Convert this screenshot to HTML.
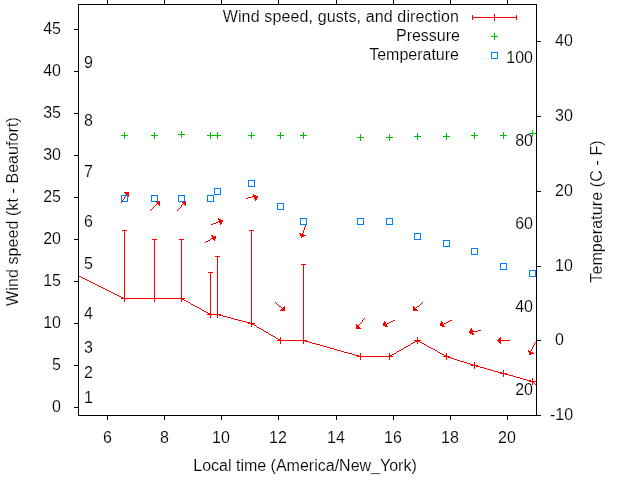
<!DOCTYPE html>
<html><head><meta charset="utf-8"><style>
html,body{margin:0;padding:0;background:#fff;width:640px;height:480px;overflow:hidden}
svg{display:block;will-change:transform}
text{font-family:"Liberation Sans",sans-serif;font-size:16px;fill:#000;stroke:#fff;stroke-width:0.15px}
</style></head><body>
<svg width="640" height="480" viewBox="0 0 640 480">
<rect x="0" y="0" width="640" height="480" fill="#fff"/>
<text x="61" y="412" text-anchor="end">0</text>
<text x="61" y="370" text-anchor="end">5</text>
<text x="61" y="328" text-anchor="end">10</text>
<text x="61" y="286" text-anchor="end">15</text>
<text x="61" y="244" text-anchor="end">20</text>
<text x="61" y="202" text-anchor="end">25</text>
<text x="61" y="160" text-anchor="end">30</text>
<text x="61" y="118" text-anchor="end">35</text>
<text x="61" y="76" text-anchor="end">40</text>
<text x="61" y="34" text-anchor="end">45</text>
<text x="107.5" y="443" text-anchor="middle">6</text>
<text x="164.5" y="443" text-anchor="middle">8</text>
<text x="221" y="443" text-anchor="middle">10</text>
<text x="278" y="443" text-anchor="middle">12</text>
<text x="336" y="443" text-anchor="middle">14</text>
<text x="393" y="443" text-anchor="middle">16</text>
<text x="450" y="443" text-anchor="middle">18</text>
<text x="507" y="443" text-anchor="middle">20</text>
<text x="550" y="420" text-anchor="start">-10</text>
<text x="555" y="345" text-anchor="start">0</text>
<text x="555" y="271" text-anchor="start">10</text>
<text x="555" y="196" text-anchor="start">20</text>
<text x="555" y="121" text-anchor="start">30</text>
<text x="555" y="46" text-anchor="start">40</text>
<text x="84" y="403" text-anchor="start">1</text>
<text x="84" y="378" text-anchor="start">2</text>
<text x="84" y="353" text-anchor="start">3</text>
<text x="84" y="319" text-anchor="start">4</text>
<text x="84" y="269" text-anchor="start">5</text>
<text x="84" y="227" text-anchor="start">6</text>
<text x="84" y="177" text-anchor="start">7</text>
<text x="84" y="126" text-anchor="start">8</text>
<text x="84" y="68" text-anchor="start">9</text>
<text x="533" y="395" text-anchor="end">20</text>
<text x="533" y="312" text-anchor="end">40</text>
<text x="533" y="229" text-anchor="end">60</text>
<text x="533" y="146" text-anchor="end">80</text>
<text x="533" y="63" text-anchor="end">100</text>
<text x="305" y="471" text-anchor="middle">Local time (America/New_York)</text>
<text x="0" y="0" text-anchor="middle" transform="translate(18,211.5) rotate(-90)" letter-spacing="0.08">Wind speed (kt - Beaufort)</text>
<text x="0" y="0" text-anchor="middle" transform="translate(602,211.5) rotate(-90)" letter-spacing="0.1">Temperature (C - F)</text>
<text x="459" y="22" text-anchor="end" letter-spacing="0.13">Wind speed, gusts, and direction</text>
<text x="460" y="41" text-anchor="end">Pressure</text>
<text x="459" y="60" text-anchor="end">Temperature</text>
<g shape-rendering="crispEdges">
<path fill="#ff0000" d="M494 14h1v1h-1zM472 15h1v1h-1zM494 15h1v1h-1zM516 15h1v1h-1zM472 16h1v1h-1zM494 16h1v1h-1zM516 16h1v1h-1zM472 17h45v1h-45zM472 18h1v1h-1zM494 18h1v1h-1zM516 18h1v1h-1zM472 19h1v1h-1zM494 19h1v1h-1zM516 19h1v1h-1zM494 20h1v1h-1zM122 230h5v1h-5zM249 230h5v1h-5zM124 231h1v1h-1zM251 231h1v1h-1zM124 232h1v1h-1zM251 232h1v1h-1zM124 233h1v1h-1zM251 233h1v1h-1zM124 234h1v1h-1zM251 234h1v1h-1zM124 235h1v1h-1zM251 235h1v1h-1zM124 236h1v1h-1zM251 236h1v1h-1zM124 237h1v1h-1zM251 237h1v1h-1zM124 238h1v1h-1zM251 238h1v1h-1zM124 239h1v1h-1zM152 239h5v1h-5zM179 239h5v1h-5zM251 239h1v1h-1zM124 240h1v1h-1zM154 240h1v1h-1zM181 240h1v1h-1zM251 240h1v1h-1zM124 241h1v1h-1zM154 241h1v1h-1zM181 241h1v1h-1zM251 241h1v1h-1zM124 242h1v1h-1zM154 242h1v1h-1zM181 242h1v1h-1zM251 242h1v1h-1zM124 243h1v1h-1zM154 243h1v1h-1zM181 243h1v1h-1zM251 243h1v1h-1zM124 244h1v1h-1zM154 244h1v1h-1zM181 244h1v1h-1zM251 244h1v1h-1zM124 245h1v1h-1zM154 245h1v1h-1zM181 245h1v1h-1zM251 245h1v1h-1zM124 246h1v1h-1zM154 246h1v1h-1zM181 246h1v1h-1zM251 246h1v1h-1zM124 247h1v1h-1zM154 247h1v1h-1zM181 247h1v1h-1zM251 247h1v1h-1zM124 248h1v1h-1zM154 248h1v1h-1zM181 248h1v1h-1zM251 248h1v1h-1zM124 249h1v1h-1zM154 249h1v1h-1zM181 249h1v1h-1zM251 249h1v1h-1zM124 250h1v1h-1zM154 250h1v1h-1zM181 250h1v1h-1zM251 250h1v1h-1zM124 251h1v1h-1zM154 251h1v1h-1zM181 251h1v1h-1zM251 251h1v1h-1zM124 252h1v1h-1zM154 252h1v1h-1zM181 252h1v1h-1zM251 252h1v1h-1zM124 253h1v1h-1zM154 253h1v1h-1zM181 253h1v1h-1zM251 253h1v1h-1zM124 254h1v1h-1zM154 254h1v1h-1zM181 254h1v1h-1zM251 254h1v1h-1zM124 255h1v1h-1zM154 255h1v1h-1zM181 255h1v1h-1zM251 255h1v1h-1zM124 256h1v1h-1zM154 256h1v1h-1zM181 256h1v1h-1zM215 256h5v1h-5zM251 256h1v1h-1zM124 257h1v1h-1zM154 257h1v1h-1zM181 257h1v1h-1zM217 257h1v1h-1zM251 257h1v1h-1zM124 258h1v1h-1zM154 258h1v1h-1zM181 258h1v1h-1zM217 258h1v1h-1zM251 258h1v1h-1zM124 259h1v1h-1zM154 259h1v1h-1zM181 259h1v1h-1zM217 259h1v1h-1zM251 259h1v1h-1zM124 260h1v1h-1zM154 260h1v1h-1zM181 260h1v1h-1zM217 260h1v1h-1zM251 260h1v1h-1zM124 261h1v1h-1zM154 261h1v1h-1zM181 261h1v1h-1zM217 261h1v1h-1zM251 261h1v1h-1zM124 262h1v1h-1zM154 262h1v1h-1zM181 262h1v1h-1zM217 262h1v1h-1zM251 262h1v1h-1zM124 263h1v1h-1zM154 263h1v1h-1zM181 263h1v1h-1zM217 263h1v1h-1zM251 263h1v1h-1zM124 264h1v1h-1zM154 264h1v1h-1zM181 264h1v1h-1zM217 264h1v1h-1zM251 264h1v1h-1zM301 264h5v1h-5zM124 265h1v1h-1zM154 265h1v1h-1zM181 265h1v1h-1zM217 265h1v1h-1zM251 265h1v1h-1zM303 265h1v1h-1zM124 266h1v1h-1zM154 266h1v1h-1zM181 266h1v1h-1zM217 266h1v1h-1zM251 266h1v1h-1zM303 266h1v1h-1zM124 267h1v1h-1zM154 267h1v1h-1zM181 267h1v1h-1zM217 267h1v1h-1zM251 267h1v1h-1zM303 267h1v1h-1zM124 268h1v1h-1zM154 268h1v1h-1zM181 268h1v1h-1zM217 268h1v1h-1zM251 268h1v1h-1zM303 268h1v1h-1zM124 269h1v1h-1zM154 269h1v1h-1zM181 269h1v1h-1zM217 269h1v1h-1zM251 269h1v1h-1zM303 269h1v1h-1zM124 270h1v1h-1zM154 270h1v1h-1zM181 270h1v1h-1zM217 270h1v1h-1zM251 270h1v1h-1zM303 270h1v1h-1zM124 271h1v1h-1zM154 271h1v1h-1zM181 271h1v1h-1zM217 271h1v1h-1zM251 271h1v1h-1zM303 271h1v1h-1zM124 272h1v1h-1zM154 272h1v1h-1zM181 272h1v1h-1zM208 272h5v1h-5zM217 272h1v1h-1zM251 272h1v1h-1zM303 272h1v1h-1zM124 273h1v1h-1zM154 273h1v1h-1zM181 273h1v1h-1zM210 273h1v1h-1zM217 273h1v1h-1zM251 273h1v1h-1zM303 273h1v1h-1zM124 274h1v1h-1zM154 274h1v1h-1zM181 274h1v1h-1zM210 274h1v1h-1zM217 274h1v1h-1zM251 274h1v1h-1zM303 274h1v1h-1zM78 275h1v1h-1zM124 275h1v1h-1zM154 275h1v1h-1zM181 275h1v1h-1zM210 275h1v1h-1zM217 275h1v1h-1zM251 275h1v1h-1zM303 275h1v1h-1zM79 276h2v1h-2zM124 276h1v1h-1zM154 276h1v1h-1zM181 276h1v1h-1zM210 276h1v1h-1zM217 276h1v1h-1zM251 276h1v1h-1zM303 276h1v1h-1zM81 277h2v1h-2zM124 277h1v1h-1zM154 277h1v1h-1zM181 277h1v1h-1zM210 277h1v1h-1zM217 277h1v1h-1zM251 277h1v1h-1zM303 277h1v1h-1zM83 278h2v1h-2zM124 278h1v1h-1zM154 278h1v1h-1zM181 278h1v1h-1zM210 278h1v1h-1zM217 278h1v1h-1zM251 278h1v1h-1zM303 278h1v1h-1zM85 279h2v1h-2zM124 279h1v1h-1zM154 279h1v1h-1zM181 279h1v1h-1zM210 279h1v1h-1zM217 279h1v1h-1zM251 279h1v1h-1zM303 279h1v1h-1zM87 280h2v1h-2zM124 280h1v1h-1zM154 280h1v1h-1zM181 280h1v1h-1zM210 280h1v1h-1zM217 280h1v1h-1zM251 280h1v1h-1zM303 280h1v1h-1zM89 281h2v1h-2zM124 281h1v1h-1zM154 281h1v1h-1zM181 281h1v1h-1zM210 281h1v1h-1zM217 281h1v1h-1zM251 281h1v1h-1zM303 281h1v1h-1zM91 282h2v1h-2zM124 282h1v1h-1zM154 282h1v1h-1zM181 282h1v1h-1zM210 282h1v1h-1zM217 282h1v1h-1zM251 282h1v1h-1zM303 282h1v1h-1zM93 283h2v1h-2zM124 283h1v1h-1zM154 283h1v1h-1zM181 283h1v1h-1zM210 283h1v1h-1zM217 283h1v1h-1zM251 283h1v1h-1zM303 283h1v1h-1zM95 284h2v1h-2zM124 284h1v1h-1zM154 284h1v1h-1zM181 284h1v1h-1zM210 284h1v1h-1zM217 284h1v1h-1zM251 284h1v1h-1zM303 284h1v1h-1zM97 285h2v1h-2zM124 285h1v1h-1zM154 285h1v1h-1zM181 285h1v1h-1zM210 285h1v1h-1zM217 285h1v1h-1zM251 285h1v1h-1zM303 285h1v1h-1zM99 286h2v1h-2zM124 286h1v1h-1zM154 286h1v1h-1zM181 286h1v1h-1zM210 286h1v1h-1zM217 286h1v1h-1zM251 286h1v1h-1zM303 286h1v1h-1zM101 287h2v1h-2zM124 287h1v1h-1zM154 287h1v1h-1zM181 287h1v1h-1zM210 287h1v1h-1zM217 287h1v1h-1zM251 287h1v1h-1zM303 287h1v1h-1zM103 288h2v1h-2zM124 288h1v1h-1zM154 288h1v1h-1zM181 288h1v1h-1zM210 288h1v1h-1zM217 288h1v1h-1zM251 288h1v1h-1zM303 288h1v1h-1zM105 289h2v1h-2zM124 289h1v1h-1zM154 289h1v1h-1zM181 289h1v1h-1zM210 289h1v1h-1zM217 289h1v1h-1zM251 289h1v1h-1zM303 289h1v1h-1zM107 290h2v1h-2zM124 290h1v1h-1zM154 290h1v1h-1zM181 290h1v1h-1zM210 290h1v1h-1zM217 290h1v1h-1zM251 290h1v1h-1zM303 290h1v1h-1zM109 291h2v1h-2zM124 291h1v1h-1zM154 291h1v1h-1zM181 291h1v1h-1zM210 291h1v1h-1zM217 291h1v1h-1zM251 291h1v1h-1zM303 291h1v1h-1zM111 292h2v1h-2zM124 292h1v1h-1zM154 292h1v1h-1zM181 292h1v1h-1zM210 292h1v1h-1zM217 292h1v1h-1zM251 292h1v1h-1zM303 292h1v1h-1zM113 293h2v1h-2zM124 293h1v1h-1zM154 293h1v1h-1zM181 293h1v1h-1zM210 293h1v1h-1zM217 293h1v1h-1zM251 293h1v1h-1zM303 293h1v1h-1zM115 294h2v1h-2zM124 294h1v1h-1zM154 294h1v1h-1zM181 294h1v1h-1zM210 294h1v1h-1zM217 294h1v1h-1zM251 294h1v1h-1zM303 294h1v1h-1zM117 295h2v1h-2zM124 295h1v1h-1zM154 295h1v1h-1zM181 295h1v1h-1zM210 295h1v1h-1zM217 295h1v1h-1zM251 295h1v1h-1zM303 295h1v1h-1zM119 296h2v1h-2zM124 296h1v1h-1zM154 296h1v1h-1zM181 296h1v1h-1zM210 296h1v1h-1zM217 296h1v1h-1zM251 296h1v1h-1zM303 296h1v1h-1zM121 297h2v1h-2zM124 297h1v1h-1zM154 297h1v1h-1zM181 297h1v1h-1zM210 297h1v1h-1zM217 297h1v1h-1zM251 297h1v1h-1zM303 297h1v1h-1zM121 298h64v1h-64zM210 298h1v1h-1zM217 298h1v1h-1zM251 298h1v1h-1zM303 298h1v1h-1zM124 299h1v1h-1zM154 299h1v1h-1zM181 299h3v1h-3zM210 299h1v1h-1zM217 299h1v1h-1zM251 299h1v1h-1zM303 299h1v1h-1zM124 300h1v1h-1zM154 300h1v1h-1zM181 300h1v1h-1zM184 300h2v1h-2zM210 300h1v1h-1zM217 300h1v1h-1zM251 300h1v1h-1zM303 300h1v1h-1zM124 301h1v1h-1zM154 301h1v1h-1zM181 301h1v1h-1zM186 301h2v1h-2zM210 301h1v1h-1zM217 301h1v1h-1zM251 301h1v1h-1zM303 301h1v1h-1zM188 302h2v1h-2zM210 302h1v1h-1zM217 302h1v1h-1zM251 302h1v1h-1zM303 302h1v1h-1zM190 303h1v1h-1zM210 303h1v1h-1zM217 303h1v1h-1zM251 303h1v1h-1zM303 303h1v1h-1zM191 304h2v1h-2zM210 304h1v1h-1zM217 304h1v1h-1zM251 304h1v1h-1zM303 304h1v1h-1zM193 305h2v1h-2zM210 305h1v1h-1zM217 305h1v1h-1zM251 305h1v1h-1zM303 305h1v1h-1zM195 306h2v1h-2zM210 306h1v1h-1zM217 306h1v1h-1zM251 306h1v1h-1zM303 306h1v1h-1zM197 307h2v1h-2zM210 307h1v1h-1zM217 307h1v1h-1zM251 307h1v1h-1zM303 307h1v1h-1zM199 308h2v1h-2zM210 308h1v1h-1zM217 308h1v1h-1zM251 308h1v1h-1zM303 308h1v1h-1zM201 309h1v1h-1zM210 309h1v1h-1zM217 309h1v1h-1zM251 309h1v1h-1zM303 309h1v1h-1zM202 310h2v1h-2zM210 310h1v1h-1zM217 310h1v1h-1zM251 310h1v1h-1zM303 310h1v1h-1zM204 311h2v1h-2zM210 311h1v1h-1zM217 311h1v1h-1zM251 311h1v1h-1zM303 311h1v1h-1zM206 312h2v1h-2zM210 312h1v1h-1zM217 312h1v1h-1zM251 312h1v1h-1zM303 312h1v1h-1zM208 313h3v1h-3zM217 313h1v1h-1zM251 313h1v1h-1zM303 313h1v1h-1zM207 314h14v1h-14zM251 314h1v1h-1zM303 314h1v1h-1zM210 315h1v1h-1zM217 315h1v1h-1zM219 315h4v1h-4zM251 315h1v1h-1zM303 315h1v1h-1zM210 316h1v1h-1zM217 316h1v1h-1zM223 316h4v1h-4zM251 316h1v1h-1zM303 316h1v1h-1zM210 317h1v1h-1zM217 317h1v1h-1zM227 317h4v1h-4zM251 317h1v1h-1zM303 317h1v1h-1zM231 318h3v1h-3zM251 318h1v1h-1zM303 318h1v1h-1zM234 319h4v1h-4zM251 319h1v1h-1zM303 319h1v1h-1zM238 320h4v1h-4zM251 320h1v1h-1zM303 320h1v1h-1zM242 321h4v1h-4zM251 321h1v1h-1zM303 321h1v1h-1zM246 322h4v1h-4zM251 322h1v1h-1zM303 322h1v1h-1zM248 323h7v1h-7zM303 323h1v1h-1zM251 324h3v1h-3zM303 324h1v1h-1zM251 325h1v1h-1zM254 325h2v1h-2zM303 325h1v1h-1zM251 326h1v1h-1zM256 326h1v1h-1zM303 326h1v1h-1zM257 327h2v1h-2zM303 327h1v1h-1zM259 328h2v1h-2zM303 328h1v1h-1zM261 329h2v1h-2zM303 329h1v1h-1zM263 330h1v1h-1zM303 330h1v1h-1zM264 331h2v1h-2zM303 331h1v1h-1zM266 332h2v1h-2zM303 332h1v1h-1zM268 333h1v1h-1zM303 333h1v1h-1zM269 334h2v1h-2zM303 334h1v1h-1zM271 335h2v1h-2zM303 335h1v1h-1zM273 336h2v1h-2zM303 336h1v1h-1zM275 337h1v1h-1zM280 337h1v1h-1zM303 337h1v1h-1zM417 337h1v1h-1zM276 338h2v1h-2zM280 338h1v1h-1zM303 338h1v1h-1zM417 338h1v1h-1zM278 339h3v1h-3zM303 339h1v1h-1zM417 339h1v1h-1zM277 340h30v1h-30zM414 340h7v1h-7zM280 341h1v1h-1zM303 341h1v1h-1zM305 341h4v1h-4zM415 341h5v1h-5zM280 342h1v1h-1zM303 342h1v1h-1zM309 342h3v1h-3zM413 342h2v1h-2zM417 342h1v1h-1zM420 342h2v1h-2zM280 343h1v1h-1zM303 343h1v1h-1zM312 343h4v1h-4zM411 343h2v1h-2zM417 343h1v1h-1zM422 343h2v1h-2zM316 344h4v1h-4zM410 344h1v1h-1zM424 344h2v1h-2zM320 345h3v1h-3zM408 345h2v1h-2zM426 345h1v1h-1zM323 346h4v1h-4zM406 346h2v1h-2zM427 346h2v1h-2zM327 347h3v1h-3zM404 347h2v1h-2zM429 347h2v1h-2zM330 348h4v1h-4zM403 348h1v1h-1zM431 348h2v1h-2zM334 349h3v1h-3zM401 349h2v1h-2zM433 349h2v1h-2zM337 350h4v1h-4zM399 350h2v1h-2zM435 350h2v1h-2zM341 351h3v1h-3zM397 351h2v1h-2zM437 351h1v1h-1zM344 352h4v1h-4zM396 352h1v1h-1zM438 352h2v1h-2zM348 353h4v1h-4zM360 353h1v1h-1zM389 353h1v1h-1zM394 353h2v1h-2zM440 353h2v1h-2zM446 353h1v1h-1zM352 354h3v1h-3zM360 354h1v1h-1zM389 354h1v1h-1zM392 354h2v1h-2zM442 354h2v1h-2zM446 354h1v1h-1zM355 355h4v1h-4zM360 355h1v1h-1zM389 355h3v1h-3zM444 355h3v1h-3zM357 356h36v1h-36zM443 356h7v1h-7zM360 357h1v1h-1zM389 357h1v1h-1zM446 357h1v1h-1zM448 357h3v1h-3zM360 358h1v1h-1zM389 358h1v1h-1zM446 358h1v1h-1zM451 358h3v1h-3zM360 359h1v1h-1zM389 359h1v1h-1zM446 359h1v1h-1zM454 359h3v1h-3zM457 360h3v1h-3zM460 361h4v1h-4zM464 362h3v1h-3zM474 362h1v1h-1zM467 363h3v1h-3zM474 363h1v1h-1zM470 364h3v1h-3zM474 364h1v1h-1zM471 365h7v1h-7zM474 366h1v1h-1zM476 366h4v1h-4zM474 367h1v1h-1zM480 367h4v1h-4zM474 368h1v1h-1zM484 368h3v1h-3zM487 369h4v1h-4zM491 370h3v1h-3zM503 370h1v1h-1zM494 371h4v1h-4zM503 371h1v1h-1zM498 372h4v1h-4zM503 372h1v1h-1zM500 373h7v1h-7zM503 374h1v1h-1zM505 374h4v1h-4zM503 375h1v1h-1zM509 375h4v1h-4zM503 376h1v1h-1zM513 376h3v1h-3zM516 377h4v1h-4zM520 378h3v1h-3zM532 378h1v1h-1zM523 379h4v1h-4zM532 379h1v1h-1zM527 380h4v1h-4zM532 380h1v1h-1zM529 381h7v1h-7zM532 382h2v1h-2zM532 383h1v1h-1zM534 383h1v1h-1zM532 384h1v1h-1zM535 384h1v1h-1z"/>
<path fill="#ff0000" d="M124 192h5v1h-5zM125 193h4v1h-4zM126 194h3v1h-3zM253 194h1v1h-1zM126 195h3v1h-3zM253 195h3v1h-3zM125 196h1v1h-1zM128 196h1v1h-1zM252 196h6v1h-6zM124 197h1v1h-1zM248 197h4v1h-4zM254 197h4v1h-4zM124 198h1v1h-1zM246 198h2v1h-2zM254 198h3v1h-3zM123 199h1v1h-1zM255 199h2v1h-2zM122 200h1v1h-1zM255 200h1v1h-1zM122 201h1v1h-1zM155 201h5v1h-5zM181 201h5v1h-5zM121 202h1v1h-1zM156 202h4v1h-4zM182 202h4v1h-4zM157 203h3v1h-3zM183 203h3v1h-3zM156 204h1v1h-1zM158 204h2v1h-2zM182 204h1v1h-1zM184 204h2v1h-2zM155 205h1v1h-1zM159 205h1v1h-1zM181 205h1v1h-1zM185 205h1v1h-1zM154 206h1v1h-1zM181 206h1v1h-1zM153 207h1v1h-1zM180 207h1v1h-1zM152 208h1v1h-1zM179 208h1v1h-1zM151 209h1v1h-1zM178 209h1v1h-1zM150 210h1v1h-1zM177 210h1v1h-1zM218 218h1v1h-1zM218 219h3v1h-3zM219 220h4v1h-4zM218 221h5v1h-5zM216 222h2v1h-2zM219 222h3v1h-3zM213 223h3v1h-3zM220 223h2v1h-2zM211 224h2v1h-2zM220 224h1v1h-1zM305 225h1v1h-1zM305 226h1v1h-1zM304 227h1v1h-1zM304 228h1v1h-1zM304 229h1v1h-1zM303 230h1v1h-1zM303 231h1v1h-1zM303 232h1v1h-1zM299 233h2v1h-2zM302 233h1v1h-1zM300 234h4v1h-4zM211 235h2v1h-2zM300 235h6v1h-6zM212 236h4v1h-4zM301 236h3v1h-3zM212 237h4v1h-4zM301 237h1v1h-1zM211 238h5v1h-5zM210 239h1v1h-1zM213 239h2v1h-2zM208 240h2v1h-2zM214 240h1v1h-1zM206 241h2v1h-2zM205 242h1v1h-1zM275 302h1v1h-1zM422 302h1v1h-1zM276 303h1v1h-1zM421 303h1v1h-1zM277 304h1v1h-1zM420 304h1v1h-1zM278 305h1v1h-1zM419 305h1v1h-1zM279 306h2v1h-2zM284 306h1v1h-1zM413 306h1v1h-1zM417 306h2v1h-2zM281 307h1v1h-1zM283 307h2v1h-2zM413 307h2v1h-2zM416 307h1v1h-1zM282 308h3v1h-3zM413 308h3v1h-3zM281 309h4v1h-4zM413 309h4v1h-4zM280 310h5v1h-5zM413 310h5v1h-5zM364 318h1v1h-1zM363 319h1v1h-1zM362 320h1v1h-1zM393 320h2v1h-2zM450 320h2v1h-2zM362 321h1v1h-1zM384 321h1v1h-1zM391 321h2v1h-2zM441 321h1v1h-1zM448 321h2v1h-2zM361 322h1v1h-1zM384 322h2v1h-2zM389 322h2v1h-2zM441 322h2v1h-2zM446 322h2v1h-2zM360 323h1v1h-1zM383 323h3v1h-3zM387 323h2v1h-2zM440 323h3v1h-3zM444 323h2v1h-2zM356 324h1v1h-1zM359 324h1v1h-1zM383 324h4v1h-4zM440 324h4v1h-4zM356 325h3v1h-3zM383 325h4v1h-4zM440 325h4v1h-4zM356 326h3v1h-3zM385 326h3v1h-3zM442 326h3v1h-3zM356 327h4v1h-4zM356 328h5v1h-5zM471 328h1v1h-1zM470 329h2v1h-2zM470 330h3v1h-3zM478 330h3v1h-3zM469 331h9v1h-9zM469 332h4v1h-4zM470 333h4v1h-4zM472 334h2v1h-2zM500 337h1v1h-1zM499 338h2v1h-2zM498 339h3v1h-3zM497 340h13v1h-13zM498 341h3v1h-3zM499 342h2v1h-2zM535 342h1v1h-1zM500 343h1v1h-1zM534 343h1v1h-1zM534 344h1v1h-1zM533 345h1v1h-1zM533 346h1v1h-1zM532 347h1v1h-1zM532 348h1v1h-1zM531 349h1v1h-1zM528 350h1v1h-1zM531 350h1v1h-1zM528 351h3v1h-3zM529 352h4v1h-4zM529 353h5v1h-5zM529 354h2v1h-2z"/>
<path fill="#00c000" d="M494 33h1v1h-1zM494 34h1v1h-1zM494 35h1v1h-1zM491 36h7v1h-7zM494 37h1v1h-1zM494 38h1v1h-1zM494 39h1v1h-1zM532 130h1v1h-1zM181 131h1v1h-1zM532 131h1v1h-1zM124 132h1v1h-1zM154 132h1v1h-1zM181 132h1v1h-1zM210 132h1v1h-1zM217 132h1v1h-1zM251 132h1v1h-1zM280 132h1v1h-1zM303 132h1v1h-1zM474 132h1v1h-1zM503 132h1v1h-1zM532 132h1v1h-1zM124 133h1v1h-1zM154 133h1v1h-1zM181 133h1v1h-1zM210 133h1v1h-1zM217 133h1v1h-1zM251 133h1v1h-1zM280 133h1v1h-1zM303 133h1v1h-1zM417 133h1v1h-1zM446 133h1v1h-1zM474 133h1v1h-1zM503 133h1v1h-1zM529 133h7v1h-7zM124 134h1v1h-1zM154 134h1v1h-1zM178 134h7v1h-7zM210 134h1v1h-1zM217 134h1v1h-1zM251 134h1v1h-1zM280 134h1v1h-1zM303 134h1v1h-1zM360 134h1v1h-1zM389 134h1v1h-1zM417 134h1v1h-1zM446 134h1v1h-1zM474 134h1v1h-1zM503 134h1v1h-1zM532 134h1v1h-1zM121 135h7v1h-7zM151 135h7v1h-7zM181 135h1v1h-1zM207 135h14v1h-14zM248 135h7v1h-7zM277 135h7v1h-7zM300 135h7v1h-7zM360 135h1v1h-1zM389 135h1v1h-1zM417 135h1v1h-1zM446 135h1v1h-1zM471 135h7v1h-7zM500 135h7v1h-7zM532 135h1v1h-1zM124 136h1v1h-1zM154 136h1v1h-1zM181 136h1v1h-1zM210 136h1v1h-1zM217 136h1v1h-1zM251 136h1v1h-1zM280 136h1v1h-1zM303 136h1v1h-1zM360 136h1v1h-1zM389 136h1v1h-1zM414 136h7v1h-7zM443 136h7v1h-7zM474 136h1v1h-1zM503 136h1v1h-1zM532 136h1v1h-1zM124 137h1v1h-1zM154 137h1v1h-1zM181 137h1v1h-1zM210 137h1v1h-1zM217 137h1v1h-1zM251 137h1v1h-1zM280 137h1v1h-1zM303 137h1v1h-1zM357 137h7v1h-7zM386 137h7v1h-7zM417 137h1v1h-1zM446 137h1v1h-1zM474 137h1v1h-1zM503 137h1v1h-1zM124 138h1v1h-1zM154 138h1v1h-1zM210 138h1v1h-1zM217 138h1v1h-1zM251 138h1v1h-1zM280 138h1v1h-1zM303 138h1v1h-1zM360 138h1v1h-1zM389 138h1v1h-1zM417 138h1v1h-1zM446 138h1v1h-1zM474 138h1v1h-1zM503 138h1v1h-1zM360 139h1v1h-1zM389 139h1v1h-1zM417 139h1v1h-1zM446 139h1v1h-1zM360 140h1v1h-1zM389 140h1v1h-1z"/>
<path fill="#0080ff" d="M491 52h7v1h-7zM491 53h1v1h-1zM497 53h1v1h-1zM491 54h1v1h-1zM497 54h1v1h-1zM491 55h1v1h-1zM497 55h1v1h-1zM491 56h1v1h-1zM497 56h1v1h-1zM491 57h1v1h-1zM497 57h1v1h-1zM491 58h7v1h-7zM248 180h7v1h-7zM248 181h1v1h-1zM254 181h1v1h-1zM248 182h1v1h-1zM254 182h1v1h-1zM248 183h1v1h-1zM254 183h1v1h-1zM248 184h1v1h-1zM254 184h1v1h-1zM248 185h1v1h-1zM254 185h1v1h-1zM248 186h7v1h-7zM214 188h7v1h-7zM214 189h1v1h-1zM220 189h1v1h-1zM214 190h1v1h-1zM220 190h1v1h-1zM214 191h1v1h-1zM220 191h1v1h-1zM214 192h1v1h-1zM220 192h1v1h-1zM214 193h1v1h-1zM220 193h1v1h-1zM214 194h7v1h-7zM121 195h7v1h-7zM151 195h7v1h-7zM178 195h7v1h-7zM207 195h7v1h-7zM121 196h1v1h-1zM127 196h1v1h-1zM151 196h1v1h-1zM157 196h1v1h-1zM178 196h1v1h-1zM184 196h1v1h-1zM207 196h1v1h-1zM213 196h1v1h-1zM121 197h1v1h-1zM127 197h1v1h-1zM151 197h1v1h-1zM157 197h1v1h-1zM178 197h1v1h-1zM184 197h1v1h-1zM207 197h1v1h-1zM213 197h1v1h-1zM121 198h1v1h-1zM127 198h1v1h-1zM151 198h1v1h-1zM157 198h1v1h-1zM178 198h1v1h-1zM184 198h1v1h-1zM207 198h1v1h-1zM213 198h1v1h-1zM121 199h1v1h-1zM127 199h1v1h-1zM151 199h1v1h-1zM157 199h1v1h-1zM178 199h1v1h-1zM184 199h1v1h-1zM207 199h1v1h-1zM213 199h1v1h-1zM121 200h1v1h-1zM127 200h1v1h-1zM151 200h1v1h-1zM157 200h1v1h-1zM178 200h1v1h-1zM184 200h1v1h-1zM207 200h1v1h-1zM213 200h1v1h-1zM121 201h7v1h-7zM151 201h7v1h-7zM178 201h7v1h-7zM207 201h7v1h-7zM277 203h7v1h-7zM277 204h1v1h-1zM283 204h1v1h-1zM277 205h1v1h-1zM283 205h1v1h-1zM277 206h1v1h-1zM283 206h1v1h-1zM277 207h1v1h-1zM283 207h1v1h-1zM277 208h1v1h-1zM283 208h1v1h-1zM277 209h7v1h-7zM300 218h7v1h-7zM357 218h7v1h-7zM386 218h7v1h-7zM300 219h1v1h-1zM306 219h1v1h-1zM357 219h1v1h-1zM363 219h1v1h-1zM386 219h1v1h-1zM392 219h1v1h-1zM300 220h1v1h-1zM306 220h1v1h-1zM357 220h1v1h-1zM363 220h1v1h-1zM386 220h1v1h-1zM392 220h1v1h-1zM300 221h1v1h-1zM306 221h1v1h-1zM357 221h1v1h-1zM363 221h1v1h-1zM386 221h1v1h-1zM392 221h1v1h-1zM300 222h1v1h-1zM306 222h1v1h-1zM357 222h1v1h-1zM363 222h1v1h-1zM386 222h1v1h-1zM392 222h1v1h-1zM300 223h1v1h-1zM306 223h1v1h-1zM357 223h1v1h-1zM363 223h1v1h-1zM386 223h1v1h-1zM392 223h1v1h-1zM300 224h7v1h-7zM357 224h7v1h-7zM386 224h7v1h-7zM414 233h7v1h-7zM414 234h1v1h-1zM420 234h1v1h-1zM414 235h1v1h-1zM420 235h1v1h-1zM414 236h1v1h-1zM420 236h1v1h-1zM414 237h1v1h-1zM420 237h1v1h-1zM414 238h1v1h-1zM420 238h1v1h-1zM414 239h7v1h-7zM443 240h7v1h-7zM443 241h1v1h-1zM449 241h1v1h-1zM443 242h1v1h-1zM449 242h1v1h-1zM443 243h1v1h-1zM449 243h1v1h-1zM443 244h1v1h-1zM449 244h1v1h-1zM443 245h1v1h-1zM449 245h1v1h-1zM443 246h7v1h-7zM471 248h7v1h-7zM471 249h1v1h-1zM477 249h1v1h-1zM471 250h1v1h-1zM477 250h1v1h-1zM471 251h1v1h-1zM477 251h1v1h-1zM471 252h1v1h-1zM477 252h1v1h-1zM471 253h1v1h-1zM477 253h1v1h-1zM471 254h7v1h-7zM500 263h7v1h-7zM500 264h1v1h-1zM506 264h1v1h-1zM500 265h1v1h-1zM506 265h1v1h-1zM500 266h1v1h-1zM506 266h1v1h-1zM500 267h1v1h-1zM506 267h1v1h-1zM500 268h1v1h-1zM506 268h1v1h-1zM500 269h7v1h-7zM529 270h7v1h-7zM529 271h1v1h-1zM535 271h1v1h-1zM529 272h1v1h-1zM535 272h1v1h-1zM529 273h1v1h-1zM535 273h1v1h-1zM529 274h1v1h-1zM535 274h1v1h-1zM529 275h1v1h-1zM535 275h1v1h-1zM529 276h7v1h-7z"/>
<path fill="#000000" d="M107 0h1v1h-1zM164 0h1v1h-1zM221 0h1v1h-1zM278 0h1v1h-1zM336 0h1v1h-1zM393 0h1v1h-1zM450 0h1v1h-1zM507 0h1v1h-1zM107 1h1v1h-1zM164 1h1v1h-1zM221 1h1v1h-1zM278 1h1v1h-1zM336 1h1v1h-1zM393 1h1v1h-1zM450 1h1v1h-1zM507 1h1v1h-1zM107 2h1v1h-1zM164 2h1v1h-1zM221 2h1v1h-1zM278 2h1v1h-1zM336 2h1v1h-1zM393 2h1v1h-1zM450 2h1v1h-1zM507 2h1v1h-1zM107 3h1v1h-1zM164 3h1v1h-1zM221 3h1v1h-1zM278 3h1v1h-1zM336 3h1v1h-1zM393 3h1v1h-1zM450 3h1v1h-1zM507 3h1v1h-1zM78 4h459v1h-459zM78 5h1v1h-1zM536 5h1v1h-1zM78 6h1v1h-1zM536 6h1v1h-1zM78 7h1v1h-1zM536 7h1v1h-1zM78 8h1v1h-1zM536 8h1v1h-1zM78 9h1v1h-1zM536 9h1v1h-1zM78 10h1v1h-1zM536 10h1v1h-1zM78 11h1v1h-1zM536 11h1v1h-1zM78 12h1v1h-1zM536 12h1v1h-1zM78 13h1v1h-1zM536 13h1v1h-1zM78 14h1v1h-1zM536 14h1v1h-1zM78 15h1v1h-1zM536 15h1v1h-1zM78 16h1v1h-1zM536 16h1v1h-1zM78 17h1v1h-1zM536 17h1v1h-1zM78 18h1v1h-1zM536 18h1v1h-1zM78 19h1v1h-1zM536 19h1v1h-1zM78 20h1v1h-1zM536 20h1v1h-1zM78 21h1v1h-1zM536 21h1v1h-1zM78 22h1v1h-1zM536 22h1v1h-1zM78 23h1v1h-1zM536 23h1v1h-1zM78 24h1v1h-1zM536 24h1v1h-1zM78 25h1v1h-1zM536 25h1v1h-1zM78 26h1v1h-1zM536 26h1v1h-1zM78 27h1v1h-1zM536 27h1v1h-1zM78 28h1v1h-1zM536 28h1v1h-1zM74 29h5v1h-5zM536 29h1v1h-1zM78 30h1v1h-1zM536 30h1v1h-1zM78 31h1v1h-1zM536 31h1v1h-1zM78 32h1v1h-1zM536 32h1v1h-1zM78 33h1v1h-1zM536 33h1v1h-1zM78 34h1v1h-1zM536 34h1v1h-1zM78 35h1v1h-1zM536 35h1v1h-1zM78 36h1v1h-1zM536 36h1v1h-1zM78 37h1v1h-1zM536 37h1v1h-1zM78 38h1v1h-1zM536 38h1v1h-1zM78 39h1v1h-1zM536 39h1v1h-1zM78 40h1v1h-1zM536 40h1v1h-1zM78 41h1v1h-1zM536 41h5v1h-5zM78 42h1v1h-1zM536 42h1v1h-1zM78 43h1v1h-1zM536 43h1v1h-1zM78 44h1v1h-1zM536 44h1v1h-1zM78 45h1v1h-1zM536 45h1v1h-1zM78 46h1v1h-1zM536 46h1v1h-1zM78 47h1v1h-1zM536 47h1v1h-1zM78 48h1v1h-1zM536 48h1v1h-1zM78 49h1v1h-1zM536 49h1v1h-1zM78 50h1v1h-1zM536 50h1v1h-1zM78 51h1v1h-1zM536 51h1v1h-1zM78 52h1v1h-1zM536 52h1v1h-1zM78 53h1v1h-1zM536 53h1v1h-1zM78 54h1v1h-1zM536 54h1v1h-1zM78 55h1v1h-1zM536 55h1v1h-1zM78 56h1v1h-1zM536 56h1v1h-1zM78 57h1v1h-1zM536 57h1v1h-1zM78 58h1v1h-1zM536 58h1v1h-1zM78 59h1v1h-1zM536 59h1v1h-1zM78 60h1v1h-1zM536 60h1v1h-1zM78 61h1v1h-1zM536 61h1v1h-1zM78 62h1v1h-1zM536 62h1v1h-1zM78 63h1v1h-1zM536 63h1v1h-1zM78 64h1v1h-1zM536 64h1v1h-1zM78 65h1v1h-1zM536 65h1v1h-1zM78 66h1v1h-1zM536 66h1v1h-1zM78 67h1v1h-1zM536 67h1v1h-1zM78 68h1v1h-1zM536 68h1v1h-1zM78 69h1v1h-1zM536 69h1v1h-1zM78 70h1v1h-1zM536 70h1v1h-1zM74 71h5v1h-5zM536 71h1v1h-1zM78 72h1v1h-1zM536 72h1v1h-1zM78 73h1v1h-1zM536 73h1v1h-1zM78 74h1v1h-1zM536 74h1v1h-1zM78 75h1v1h-1zM536 75h1v1h-1zM78 76h1v1h-1zM536 76h1v1h-1zM78 77h1v1h-1zM536 77h1v1h-1zM78 78h1v1h-1zM536 78h1v1h-1zM78 79h1v1h-1zM536 79h1v1h-1zM78 80h1v1h-1zM536 80h1v1h-1zM78 81h1v1h-1zM536 81h1v1h-1zM78 82h1v1h-1zM536 82h1v1h-1zM78 83h1v1h-1zM536 83h1v1h-1zM78 84h1v1h-1zM536 84h1v1h-1zM78 85h1v1h-1zM536 85h1v1h-1zM78 86h1v1h-1zM536 86h1v1h-1zM78 87h1v1h-1zM536 87h1v1h-1zM78 88h1v1h-1zM536 88h1v1h-1zM78 89h1v1h-1zM536 89h1v1h-1zM78 90h1v1h-1zM536 90h1v1h-1zM78 91h1v1h-1zM536 91h1v1h-1zM78 92h1v1h-1zM536 92h1v1h-1zM78 93h1v1h-1zM536 93h1v1h-1zM78 94h1v1h-1zM536 94h1v1h-1zM78 95h1v1h-1zM536 95h1v1h-1zM78 96h1v1h-1zM536 96h1v1h-1zM78 97h1v1h-1zM536 97h1v1h-1zM78 98h1v1h-1zM536 98h1v1h-1zM78 99h1v1h-1zM536 99h1v1h-1zM78 100h1v1h-1zM536 100h1v1h-1zM78 101h1v1h-1zM536 101h1v1h-1zM78 102h1v1h-1zM536 102h1v1h-1zM78 103h1v1h-1zM536 103h1v1h-1zM78 104h1v1h-1zM536 104h1v1h-1zM78 105h1v1h-1zM536 105h1v1h-1zM78 106h1v1h-1zM536 106h1v1h-1zM78 107h1v1h-1zM536 107h1v1h-1zM78 108h1v1h-1zM536 108h1v1h-1zM78 109h1v1h-1zM536 109h1v1h-1zM78 110h1v1h-1zM536 110h1v1h-1zM78 111h1v1h-1zM536 111h1v1h-1zM78 112h1v1h-1zM536 112h1v1h-1zM74 113h5v1h-5zM536 113h1v1h-1zM78 114h1v1h-1zM536 114h1v1h-1zM78 115h1v1h-1zM536 115h1v1h-1zM78 116h1v1h-1zM536 116h5v1h-5zM78 117h1v1h-1zM536 117h1v1h-1zM78 118h1v1h-1zM536 118h1v1h-1zM78 119h1v1h-1zM536 119h1v1h-1zM78 120h1v1h-1zM536 120h1v1h-1zM78 121h1v1h-1zM536 121h1v1h-1zM78 122h1v1h-1zM536 122h1v1h-1zM78 123h1v1h-1zM536 123h1v1h-1zM78 124h1v1h-1zM536 124h1v1h-1zM78 125h1v1h-1zM536 125h1v1h-1zM78 126h1v1h-1zM536 126h1v1h-1zM78 127h1v1h-1zM536 127h1v1h-1zM78 128h1v1h-1zM536 128h1v1h-1zM78 129h1v1h-1zM536 129h1v1h-1zM78 130h1v1h-1zM536 130h1v1h-1zM78 131h1v1h-1zM536 131h1v1h-1zM78 132h1v1h-1zM536 132h1v1h-1zM78 133h1v1h-1zM536 133h1v1h-1zM78 134h1v1h-1zM536 134h1v1h-1zM78 135h1v1h-1zM536 135h1v1h-1zM78 136h1v1h-1zM536 136h1v1h-1zM78 137h1v1h-1zM536 137h1v1h-1zM78 138h1v1h-1zM536 138h1v1h-1zM78 139h1v1h-1zM536 139h1v1h-1zM78 140h1v1h-1zM536 140h1v1h-1zM78 141h1v1h-1zM536 141h1v1h-1zM78 142h1v1h-1zM536 142h1v1h-1zM78 143h1v1h-1zM536 143h1v1h-1zM78 144h1v1h-1zM536 144h1v1h-1zM78 145h1v1h-1zM536 145h1v1h-1zM78 146h1v1h-1zM536 146h1v1h-1zM78 147h1v1h-1zM536 147h1v1h-1zM78 148h1v1h-1zM536 148h1v1h-1zM78 149h1v1h-1zM536 149h1v1h-1zM78 150h1v1h-1zM536 150h1v1h-1zM78 151h1v1h-1zM536 151h1v1h-1zM78 152h1v1h-1zM536 152h1v1h-1zM78 153h1v1h-1zM536 153h1v1h-1zM78 154h1v1h-1zM536 154h1v1h-1zM74 155h5v1h-5zM536 155h1v1h-1zM78 156h1v1h-1zM536 156h1v1h-1zM78 157h1v1h-1zM536 157h1v1h-1zM78 158h1v1h-1zM536 158h1v1h-1zM78 159h1v1h-1zM536 159h1v1h-1zM78 160h1v1h-1zM536 160h1v1h-1zM78 161h1v1h-1zM536 161h1v1h-1zM78 162h1v1h-1zM536 162h1v1h-1zM78 163h1v1h-1zM536 163h1v1h-1zM78 164h1v1h-1zM536 164h1v1h-1zM78 165h1v1h-1zM536 165h1v1h-1zM78 166h1v1h-1zM536 166h1v1h-1zM78 167h1v1h-1zM536 167h1v1h-1zM78 168h1v1h-1zM536 168h1v1h-1zM78 169h1v1h-1zM536 169h1v1h-1zM78 170h1v1h-1zM536 170h1v1h-1zM78 171h1v1h-1zM536 171h1v1h-1zM78 172h1v1h-1zM536 172h1v1h-1zM78 173h1v1h-1zM536 173h1v1h-1zM78 174h1v1h-1zM536 174h1v1h-1zM78 175h1v1h-1zM536 175h1v1h-1zM78 176h1v1h-1zM536 176h1v1h-1zM78 177h1v1h-1zM536 177h1v1h-1zM78 178h1v1h-1zM536 178h1v1h-1zM78 179h1v1h-1zM536 179h1v1h-1zM78 180h1v1h-1zM536 180h1v1h-1zM78 181h1v1h-1zM536 181h1v1h-1zM78 182h1v1h-1zM536 182h1v1h-1zM78 183h1v1h-1zM536 183h1v1h-1zM78 184h1v1h-1zM536 184h1v1h-1zM78 185h1v1h-1zM536 185h1v1h-1zM78 186h1v1h-1zM536 186h1v1h-1zM78 187h1v1h-1zM536 187h1v1h-1zM78 188h1v1h-1zM536 188h1v1h-1zM78 189h1v1h-1zM536 189h1v1h-1zM78 190h1v1h-1zM536 190h1v1h-1zM78 191h1v1h-1zM536 191h5v1h-5zM78 192h1v1h-1zM536 192h1v1h-1zM78 193h1v1h-1zM536 193h1v1h-1zM78 194h1v1h-1zM536 194h1v1h-1zM78 195h1v1h-1zM536 195h1v1h-1zM78 196h1v1h-1zM536 196h1v1h-1zM74 197h5v1h-5zM536 197h1v1h-1zM78 198h1v1h-1zM536 198h1v1h-1zM78 199h1v1h-1zM536 199h1v1h-1zM78 200h1v1h-1zM536 200h1v1h-1zM78 201h1v1h-1zM536 201h1v1h-1zM78 202h1v1h-1zM536 202h1v1h-1zM78 203h1v1h-1zM536 203h1v1h-1zM78 204h1v1h-1zM536 204h1v1h-1zM78 205h1v1h-1zM536 205h1v1h-1zM78 206h1v1h-1zM536 206h1v1h-1zM78 207h1v1h-1zM536 207h1v1h-1zM78 208h1v1h-1zM536 208h1v1h-1zM78 209h1v1h-1zM536 209h1v1h-1zM78 210h1v1h-1zM536 210h1v1h-1zM78 211h1v1h-1zM536 211h1v1h-1zM78 212h1v1h-1zM536 212h1v1h-1zM78 213h1v1h-1zM536 213h1v1h-1zM78 214h1v1h-1zM536 214h1v1h-1zM78 215h1v1h-1zM536 215h1v1h-1zM78 216h1v1h-1zM536 216h1v1h-1zM78 217h1v1h-1zM536 217h1v1h-1zM78 218h1v1h-1zM536 218h1v1h-1zM78 219h1v1h-1zM536 219h1v1h-1zM78 220h1v1h-1zM536 220h1v1h-1zM78 221h1v1h-1zM536 221h1v1h-1zM78 222h1v1h-1zM536 222h1v1h-1zM78 223h1v1h-1zM536 223h1v1h-1zM78 224h1v1h-1zM536 224h1v1h-1zM78 225h1v1h-1zM536 225h1v1h-1zM78 226h1v1h-1zM536 226h1v1h-1zM78 227h1v1h-1zM536 227h1v1h-1zM78 228h1v1h-1zM536 228h1v1h-1zM78 229h1v1h-1zM536 229h1v1h-1zM78 230h1v1h-1zM536 230h1v1h-1zM78 231h1v1h-1zM536 231h1v1h-1zM78 232h1v1h-1zM536 232h1v1h-1zM78 233h1v1h-1zM536 233h1v1h-1zM78 234h1v1h-1zM536 234h1v1h-1zM78 235h1v1h-1zM536 235h1v1h-1zM78 236h1v1h-1zM536 236h1v1h-1zM78 237h1v1h-1zM536 237h1v1h-1zM78 238h1v1h-1zM536 238h1v1h-1zM74 239h5v1h-5zM536 239h1v1h-1zM78 240h1v1h-1zM536 240h1v1h-1zM78 241h1v1h-1zM536 241h1v1h-1zM78 242h1v1h-1zM536 242h1v1h-1zM78 243h1v1h-1zM536 243h1v1h-1zM78 244h1v1h-1zM536 244h1v1h-1zM78 245h1v1h-1zM536 245h1v1h-1zM78 246h1v1h-1zM536 246h1v1h-1zM78 247h1v1h-1zM536 247h1v1h-1zM78 248h1v1h-1zM536 248h1v1h-1zM78 249h1v1h-1zM536 249h1v1h-1zM78 250h1v1h-1zM536 250h1v1h-1zM78 251h1v1h-1zM536 251h1v1h-1zM78 252h1v1h-1zM536 252h1v1h-1zM78 253h1v1h-1zM536 253h1v1h-1zM78 254h1v1h-1zM536 254h1v1h-1zM78 255h1v1h-1zM536 255h1v1h-1zM78 256h1v1h-1zM536 256h1v1h-1zM78 257h1v1h-1zM536 257h1v1h-1zM78 258h1v1h-1zM536 258h1v1h-1zM78 259h1v1h-1zM536 259h1v1h-1zM78 260h1v1h-1zM536 260h1v1h-1zM78 261h1v1h-1zM536 261h1v1h-1zM78 262h1v1h-1zM536 262h1v1h-1zM78 263h1v1h-1zM536 263h1v1h-1zM78 264h1v1h-1zM536 264h1v1h-1zM78 265h1v1h-1zM536 265h1v1h-1zM78 266h1v1h-1zM536 266h5v1h-5zM78 267h1v1h-1zM536 267h1v1h-1zM78 268h1v1h-1zM536 268h1v1h-1zM78 269h1v1h-1zM536 269h1v1h-1zM78 270h1v1h-1zM536 270h1v1h-1zM78 271h1v1h-1zM536 271h1v1h-1zM78 272h1v1h-1zM536 272h1v1h-1zM78 273h1v1h-1zM536 273h1v1h-1zM78 274h1v1h-1zM536 274h1v1h-1zM78 275h1v1h-1zM536 275h1v1h-1zM78 276h1v1h-1zM536 276h1v1h-1zM78 277h1v1h-1zM536 277h1v1h-1zM78 278h1v1h-1zM536 278h1v1h-1zM78 279h1v1h-1zM536 279h1v1h-1zM78 280h1v1h-1zM536 280h1v1h-1zM74 281h5v1h-5zM536 281h1v1h-1zM78 282h1v1h-1zM536 282h1v1h-1zM78 283h1v1h-1zM536 283h1v1h-1zM78 284h1v1h-1zM536 284h1v1h-1zM78 285h1v1h-1zM536 285h1v1h-1zM78 286h1v1h-1zM536 286h1v1h-1zM78 287h1v1h-1zM536 287h1v1h-1zM78 288h1v1h-1zM536 288h1v1h-1zM78 289h1v1h-1zM536 289h1v1h-1zM78 290h1v1h-1zM536 290h1v1h-1zM78 291h1v1h-1zM536 291h1v1h-1zM78 292h1v1h-1zM536 292h1v1h-1zM78 293h1v1h-1zM536 293h1v1h-1zM78 294h1v1h-1zM536 294h1v1h-1zM78 295h1v1h-1zM536 295h1v1h-1zM78 296h1v1h-1zM536 296h1v1h-1zM78 297h1v1h-1zM536 297h1v1h-1zM78 298h1v1h-1zM536 298h1v1h-1zM78 299h1v1h-1zM536 299h1v1h-1zM78 300h1v1h-1zM536 300h1v1h-1zM78 301h1v1h-1zM536 301h1v1h-1zM78 302h1v1h-1zM536 302h1v1h-1zM78 303h1v1h-1zM536 303h1v1h-1zM78 304h1v1h-1zM536 304h1v1h-1zM78 305h1v1h-1zM536 305h1v1h-1zM78 306h1v1h-1zM536 306h1v1h-1zM78 307h1v1h-1zM536 307h1v1h-1zM78 308h1v1h-1zM536 308h1v1h-1zM78 309h1v1h-1zM536 309h1v1h-1zM78 310h1v1h-1zM536 310h1v1h-1zM78 311h1v1h-1zM536 311h1v1h-1zM78 312h1v1h-1zM536 312h1v1h-1zM78 313h1v1h-1zM536 313h1v1h-1zM78 314h1v1h-1zM536 314h1v1h-1zM78 315h1v1h-1zM536 315h1v1h-1zM78 316h1v1h-1zM536 316h1v1h-1zM78 317h1v1h-1zM536 317h1v1h-1zM78 318h1v1h-1zM536 318h1v1h-1zM78 319h1v1h-1zM536 319h1v1h-1zM78 320h1v1h-1zM536 320h1v1h-1zM78 321h1v1h-1zM536 321h1v1h-1zM78 322h1v1h-1zM536 322h1v1h-1zM74 323h5v1h-5zM536 323h1v1h-1zM78 324h1v1h-1zM536 324h1v1h-1zM78 325h1v1h-1zM536 325h1v1h-1zM78 326h1v1h-1zM536 326h1v1h-1zM78 327h1v1h-1zM536 327h1v1h-1zM78 328h1v1h-1zM536 328h1v1h-1zM78 329h1v1h-1zM536 329h1v1h-1zM78 330h1v1h-1zM536 330h1v1h-1zM78 331h1v1h-1zM536 331h1v1h-1zM78 332h1v1h-1zM536 332h1v1h-1zM78 333h1v1h-1zM536 333h1v1h-1zM78 334h1v1h-1zM536 334h1v1h-1zM78 335h1v1h-1zM536 335h1v1h-1zM78 336h1v1h-1zM536 336h1v1h-1zM78 337h1v1h-1zM536 337h1v1h-1zM78 338h1v1h-1zM536 338h1v1h-1zM78 339h1v1h-1zM536 339h1v1h-1zM78 340h1v1h-1zM536 340h5v1h-5zM78 341h1v1h-1zM536 341h1v1h-1zM78 342h1v1h-1zM536 342h1v1h-1zM78 343h1v1h-1zM536 343h1v1h-1zM78 344h1v1h-1zM536 344h1v1h-1zM78 345h1v1h-1zM536 345h1v1h-1zM78 346h1v1h-1zM536 346h1v1h-1zM78 347h1v1h-1zM536 347h1v1h-1zM78 348h1v1h-1zM536 348h1v1h-1zM78 349h1v1h-1zM536 349h1v1h-1zM78 350h1v1h-1zM536 350h1v1h-1zM78 351h1v1h-1zM536 351h1v1h-1zM78 352h1v1h-1zM536 352h1v1h-1zM78 353h1v1h-1zM536 353h1v1h-1zM78 354h1v1h-1zM536 354h1v1h-1zM78 355h1v1h-1zM536 355h1v1h-1zM78 356h1v1h-1zM536 356h1v1h-1zM78 357h1v1h-1zM536 357h1v1h-1zM78 358h1v1h-1zM536 358h1v1h-1zM78 359h1v1h-1zM536 359h1v1h-1zM78 360h1v1h-1zM536 360h1v1h-1zM78 361h1v1h-1zM536 361h1v1h-1zM78 362h1v1h-1zM536 362h1v1h-1zM78 363h1v1h-1zM536 363h1v1h-1zM78 364h1v1h-1zM536 364h1v1h-1zM74 365h5v1h-5zM536 365h1v1h-1zM78 366h1v1h-1zM536 366h1v1h-1zM78 367h1v1h-1zM536 367h1v1h-1zM78 368h1v1h-1zM536 368h1v1h-1zM78 369h1v1h-1zM536 369h1v1h-1zM78 370h1v1h-1zM536 370h1v1h-1zM78 371h1v1h-1zM536 371h1v1h-1zM78 372h1v1h-1zM536 372h1v1h-1zM78 373h1v1h-1zM536 373h1v1h-1zM78 374h1v1h-1zM536 374h1v1h-1zM78 375h1v1h-1zM536 375h1v1h-1zM78 376h1v1h-1zM536 376h1v1h-1zM78 377h1v1h-1zM536 377h1v1h-1zM78 378h1v1h-1zM536 378h1v1h-1zM78 379h1v1h-1zM536 379h1v1h-1zM78 380h1v1h-1zM536 380h1v1h-1zM78 381h1v1h-1zM536 381h1v1h-1zM78 382h1v1h-1zM536 382h1v1h-1zM78 383h1v1h-1zM536 383h1v1h-1zM78 384h1v1h-1zM536 384h1v1h-1zM78 385h1v1h-1zM536 385h1v1h-1zM78 386h1v1h-1zM536 386h1v1h-1zM78 387h1v1h-1zM536 387h1v1h-1zM78 388h1v1h-1zM536 388h1v1h-1zM78 389h1v1h-1zM536 389h1v1h-1zM78 390h1v1h-1zM536 390h1v1h-1zM78 391h1v1h-1zM536 391h1v1h-1zM78 392h1v1h-1zM536 392h1v1h-1zM78 393h1v1h-1zM536 393h1v1h-1zM78 394h1v1h-1zM536 394h1v1h-1zM78 395h1v1h-1zM536 395h1v1h-1zM78 396h1v1h-1zM536 396h1v1h-1zM78 397h1v1h-1zM536 397h1v1h-1zM78 398h1v1h-1zM536 398h1v1h-1zM78 399h1v1h-1zM536 399h1v1h-1zM78 400h1v1h-1zM536 400h1v1h-1zM78 401h1v1h-1zM536 401h1v1h-1zM78 402h1v1h-1zM536 402h1v1h-1zM78 403h1v1h-1zM536 403h1v1h-1zM78 404h1v1h-1zM536 404h1v1h-1zM78 405h1v1h-1zM536 405h1v1h-1zM78 406h1v1h-1zM536 406h1v1h-1zM74 407h5v1h-5zM536 407h1v1h-1zM78 408h1v1h-1zM536 408h1v1h-1zM78 409h1v1h-1zM536 409h1v1h-1zM78 410h1v1h-1zM536 410h1v1h-1zM78 411h1v1h-1zM536 411h1v1h-1zM78 412h1v1h-1zM536 412h1v1h-1zM78 413h1v1h-1zM536 413h1v1h-1zM78 414h1v1h-1zM536 414h1v1h-1zM78 415h463v1h-463zM107 416h1v1h-1zM164 416h1v1h-1zM221 416h1v1h-1zM278 416h1v1h-1zM336 416h1v1h-1zM393 416h1v1h-1zM450 416h1v1h-1zM507 416h1v1h-1zM107 417h1v1h-1zM164 417h1v1h-1zM221 417h1v1h-1zM278 417h1v1h-1zM336 417h1v1h-1zM393 417h1v1h-1zM450 417h1v1h-1zM507 417h1v1h-1zM107 418h1v1h-1zM164 418h1v1h-1zM221 418h1v1h-1zM278 418h1v1h-1zM336 418h1v1h-1zM393 418h1v1h-1zM450 418h1v1h-1zM507 418h1v1h-1zM107 419h1v1h-1zM164 419h1v1h-1zM221 419h1v1h-1zM278 419h1v1h-1zM336 419h1v1h-1zM393 419h1v1h-1zM450 419h1v1h-1zM507 419h1v1h-1z"/>
</g>
</svg></body></html>
